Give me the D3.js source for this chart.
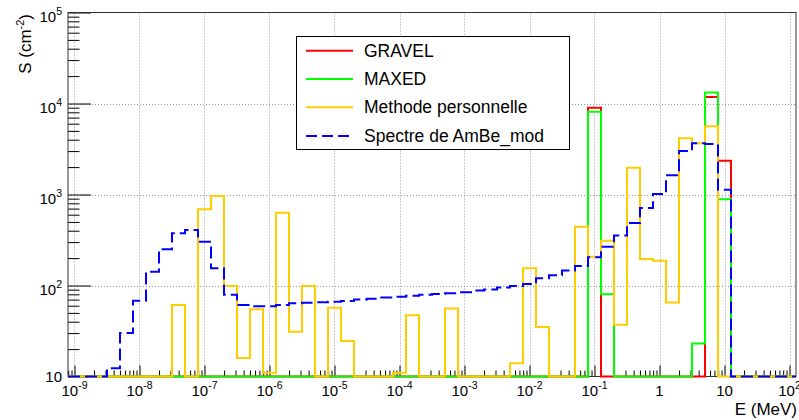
<!DOCTYPE html>
<html><head><meta charset="utf-8">
<script src="https://cdn.jsdelivr.net/npm/d3@7"></script>
<style>
body{margin:0;background:#fff}
svg{display:block}
text{font-family:"Liberation Sans",Arial,Helvetica,sans-serif;fill:#000}
</style>
</head><body>
<svg id="c" width="799" height="420"></svg>
<script>
// ---- data (56 logarithmic bins, 5 per decade, first bin starts at 10^-9.1 MeV) ----
const binCount = 56;
const binLogStart = -9.1;
const binLogWidth = 0.2;

const gravel = [0,0,0,0,0,0,0,0,0,0, 0,0,0,0,0,0,0,0,0,0, 0,0,0,0,0,0,0,0,0,0,
  0,0,0,0,0,0,0,0,0,0, 9000,0,0,0,0,0,0,0,0,11800, 2350,0,0,0,0,0];
const maxed = [0,0,0,0,0,0,0,0,0,0, 0,0,0,0,0,0,0,0,0,0, 0,0,0,0,0,0,0,0,0,0,
  0,0,0,0,0,0,0,0,0,0, 8100,80,0,0,0,0,0,0,23,13200, 885,0,0,0,0,0];
const methode = [0,0,0,0,0,0,0,0,61,0, 690,960,99,16,55,11,630,31,99,0,
  57,24.5,0,0,0,11,47,0,0,56, 0,0,0,0,14,155,35,0,0,443,
  207,310,37,1970,195,187,65,4140,3650,5630, 0,0,0,0,0,0];
const ambe = [0,0,0,12.3,30,68,142,251,375,407, 303,155,79,61,59,59,61,63.7,64.7,65.3,
  66.4,67.6,70.3,71.5,74,75.3,77.2,79.3,80.7,82, 84.4,88,90.5,95.3,98.6,104,120,130,146,164,
  204,267,355,485,710,1010,1630,3000,3650,3590, 1130,0,0,0,0,0];

const seriesNames = ["GRAVEL","MAXED","Methode personnelle","Spectre de AmBe_mod"];
const xTickExps = [-9,-8,-7,-6,-5,-4,-3,-2,-1,0,1,2];
const xTickLabels = [["10","-9"],["10","-8"],["10","-7"],["10","-6"],["10","-5"],["10","-4"],
  ["10","-3"],["10","-2"],["10","-1"],["1",""],["10",""],["10","2"]];
const yTickExps = [1,2,3,4,5];
const yTickLabels = [["10",""],["10","2"],["10","3"],["10","4"],["10","5"]];
const xTitle = "E (MeV)";
const yTitleMain = "S (cm", yTitleSup = "-2", yTitleEnd = ")";

// ---- layout ----
const svg = d3.select("#c");
const L = 68, R = 796, T = 12.5, B = 376.5;
const edges = d3.range(binCount + 1).map(i => Math.pow(10, binLogStart + binLogWidth * i));
const x = d3.scaleLog().domain([edges[0], edges[binCount]]).range([L, R]);
const y = d3.scaleLog().domain([10, 1e5]).range([B, T]).clamp(true);
const yMin = 10;

// grid
const gGrid = svg.append("g").attr("stroke", "#999").attr("stroke-dasharray", "1,2").attr("stroke-width", 1);
xTickExps.forEach(e => {
  const xx = Math.round(x(Math.pow(10, e))) + 0.5;
  gGrid.append("line").attr("x1", xx).attr("x2", xx).attr("y1", T).attr("y2", B);
});
[2,3,4].forEach(e => {
  const yy = Math.round(y(Math.pow(10, e))) + 0.5;
  gGrid.append("line").attr("x1", L).attr("x2", R).attr("y1", yy).attr("y2", yy);
});

// minor tick values
const xMinor = [], yMinor = [];
for (let e = -10; e <= 2; e++) for (let k = 2; k <= 9; k++) {
  const v = k * Math.pow(10, e);
  if (v >= edges[0] && v <= edges[binCount]) xMinor.push(v);
}
for (let e = 1; e <= 4; e++) for (let k = 2; k <= 9; k++) yMinor.push(k * Math.pow(10, e));

// x axis (ticks pointing up)
const gx = svg.append("g").attr("transform", `translate(0,${B})`);
gx.call(d3.axisBottom(x).tickValues(xTickExps.map(e => Math.pow(10, e))).tickSize(-11).tickFormat(""));
const gx2 = svg.append("g").attr("transform", `translate(0,${B})`);
gx2.call(d3.axisBottom(x).tickValues(xMinor).tickSize(-6).tickFormat(""));
[gx, gx2].forEach(g => { g.select(".domain").remove(); g.selectAll("line").attr("stroke", "#000"); });

// y axis (ticks pointing right)
const gy = svg.append("g").attr("transform", `translate(${L},0)`);
gy.call(d3.axisLeft(y).tickValues(yTickExps.map(e => Math.pow(10, e))).tickSize(-23).tickFormat(""));
const gy2 = svg.append("g").attr("transform", `translate(${L},0)`);
gy2.call(d3.axisLeft(y).tickValues(yMinor).tickSize(-11.5).tickFormat(""));
[gy, gy2].forEach(g => { g.select(".domain").remove(); g.selectAll("line").attr("stroke", "#000"); });

// frame
svg.append("rect").attr("x", L).attr("y", T).attr("width", R - L).attr("height", B - T)
  .attr("fill", "none").attr("stroke", "#333").attr("stroke-width", 1);

// tick labels
xTickExps.forEach((e, i) => {
  const t = svg.append("text").attr("x", x(Math.pow(10, e))).attr("y", 396)
    .attr("text-anchor", "middle").attr("font-size", 15);
  t.append("tspan").text(xTickLabels[i][0]);
  if (xTickLabels[i][1]) t.append("tspan").attr("dy", -7).attr("font-size", 10.5).text(xTickLabels[i][1]);
});
yTickExps.forEach((e, i) => {
  const yy = y(Math.pow(10, e));
  const sup = yTickLabels[i][1];
  const t = svg.append("text").attr("x", 62).attr("y", yy + (sup ? 9 : 5.5))
    .attr("text-anchor", "end").attr("font-size", 15);
  t.append("tspan").text(yTickLabels[i][0]);
  if (sup) t.append("tspan").attr("dy", -7).attr("font-size", 10.5).text(sup);
});

// axis titles
svg.append("text").attr("x", 797).attr("y", 415).attr("text-anchor", "end").attr("font-size", 17).text(xTitle);
const yt = svg.append("text").attr("transform", "translate(31,14) rotate(-90)")
  .attr("text-anchor", "end").attr("font-size", 17);
yt.append("tspan").text(yTitleMain);
yt.append("tspan").attr("dy", -7).attr("font-size", 11).text(yTitleSup);
yt.append("tspan").attr("dy", 7).text(yTitleEnd);

// histograms
function stepPoints(vals) {
  const pts = [[x(edges[0]), y(yMin)]];
  vals.forEach((v, i) => {
    const yy = y(Math.max(v, yMin));
    pts.push([x(edges[i]), yy]);
    pts.push([x(edges[i + 1]), yy]);
  });
  pts.push([x(edges[binCount]), y(yMin)]);
  return pts;
}
const line = d3.line();
const styles = [
  {data: gravel, color: "#ff0000", dash: null},
  {data: maxed, color: "#00ff00", dash: null},
  {data: methode, color: "#ffcc00", dash: null},
  {data: ambe, color: "#0000ff", dash: "12,5"}
];
styles.forEach(s => {
  svg.append("path").attr("d", line(stepPoints(s.data))).attr("fill", "none")
    .attr("stroke", s.color).attr("stroke-width", 2)
    .attr("stroke-dasharray", s.dash);
});

// legend
const lg = svg.append("g");
lg.append("rect").attr("x", 296.5).attr("y", 36.5).attr("width", 273).attr("height", 113)
  .attr("fill", "#fff").attr("stroke", "#000").attr("stroke-width", 1);
const rowY = [50.7, 79, 107.3, 136];
styles.forEach((s, i) => {
  lg.append("line").attr("x1", 306).attr("x2", 353).attr("y1", rowY[i]).attr("y2", rowY[i])
    .attr("stroke", s.color).attr("stroke-width", 2).attr("stroke-dasharray", s.dash ? "11,5" : null);
  lg.append("text").attr("x", 364).attr("y", rowY[i] + 6).attr("font-size", 17.5).text(seriesNames[i]);
});
</script>
</body></html>
